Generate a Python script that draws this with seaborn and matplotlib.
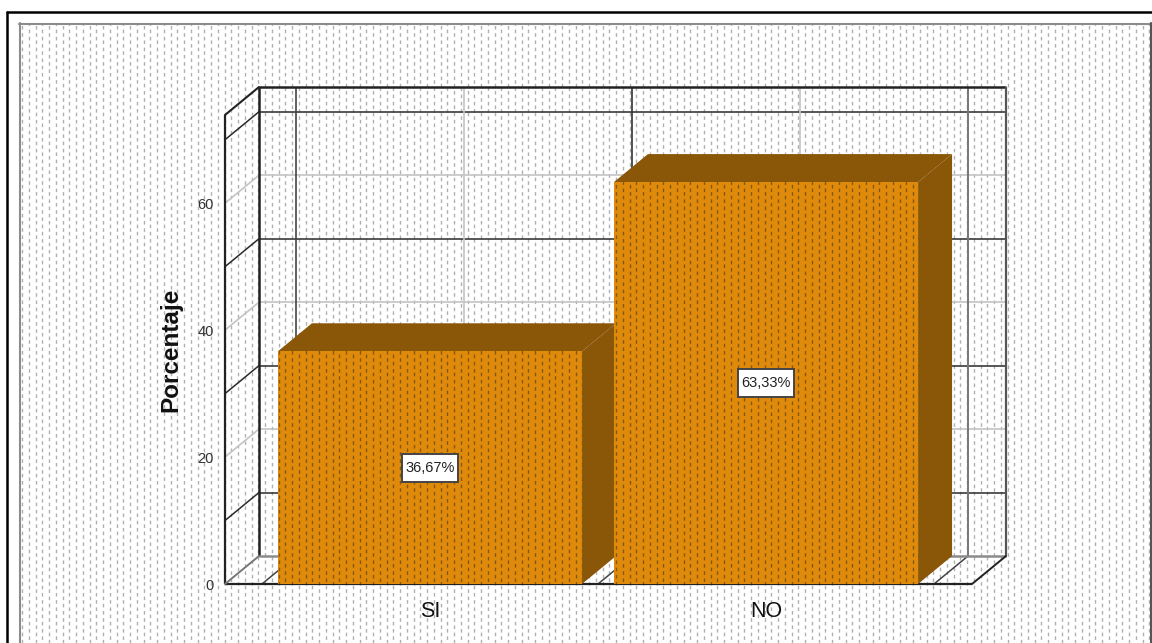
import numpy as np
import matplotlib
matplotlib.use('Agg')
import matplotlib.pyplot as plt
from matplotlib.collections import LineCollection
from matplotlib.patches import Polygon, Rectangle
from matplotlib.transforms import Affine2D, IdentityTransform
import seaborn as sns

categories = ["SI", "NO"]
percent = [36.67, 63.33]
bar_labels = ["36,67%", "63,33%"]
y_ticks = [0, 20, 40, 60]
dark_grid = [10, 30, 50, 70]
light_grid = [20, 40, 60]

W, H = 1152, 643
DEPTH_X, DEPTH_Y = 34, 28  # 3d offset of the back wall, pixels
ORANGE = "#e08a0b"
BROWN = "#8a5608"

sns.set_theme(style="white")
plt.rcParams["font.family"] = ["Liberation Sans", "DejaVu Sans"]
plt.rcParams["lines.scale_dashes"] = False

fig = plt.figure(figsize=(W / 100, H / 100), dpi=100, facecolor="white")


def dots(xs, color, phase):
    # dotted screen texture, drawn in pixel coordinates
    segs = [[(x, 0), (x, H - 23)] for x in xs]
    return LineCollection(segs, colors=color, linewidths=1.0, linestyles=[(phase, (2.6, 2.6))],
                          capstyle="butt", transform=IdentityTransform())


# alternate columns are shifted by half a period
columns = np.arange(22, W - 2, 6.75)
col_sets = [(columns[::2], 0), (columns[1::2], 2.6)]

# frame and background
bg = fig.add_axes([0, 0, 1, 1], zorder=0)
bg.set_xlim(0, W)
bg.set_ylim(H, 0)
bg.axis("off")
for xs, phase in col_sets:
    bg.add_collection(dots(xs, "#b0b0b0", phase), autolim=False)
bg.plot([7, 7], [12, H], color="black", lw=1.8)
bg.plot([7, W], [12, 12], color="black", lw=1.8)
bg.plot([19.5, 19.5], [23, H], color="#8c8c8c", lw=1.5)
bg.plot([19, W], [23.5, 23.5], color="#8c8c8c", lw=1.5)
bg.plot([W - 0.7, W - 0.7], [23, H], color="#555555", lw=1.5)

# main axes, front plane of the 3d box
ax = fig.add_axes([225 / W, (H - 584) / H, (972 - 225) / W, (584 - 115) / H], zorder=1)
ax.patch.set_alpha(0)
sns.barplot(x=categories, y=percent, color=ORANGE, saturation=1, width=0.905, ax=ax)
ax.set_xlim(-0.61, 1.613)
ax.set_ylim(0, 73.9)
sns.despine(ax=ax, left=True, bottom=True, top=True, right=True)
ax.grid(False)

ax.set_yticks(y_ticks)
ax.set_yticklabels([str(t) for t in y_ticks], fontsize=10.5, color="#333333")
ax.tick_params(axis="y", length=0, pad=8)
ax.tick_params(axis="x", length=0, pad=12)
ax.set_xticks(range(len(categories)))
ax.set_xticklabels(categories, fontsize=15.5, color="#111111")
ax.set_xlabel("")
ax.set_ylabel("Porcentaje", fontsize=17.5, fontweight="bold", color="#111111", labelpad=11)

back = ax.transData + Affine2D().translate(DEPTH_X, DEPTH_Y)
x0, x1 = ax.get_xlim()
y0, y1 = ax.get_ylim()


def wall_line(x, y, trans, color, lw):
    ax.plot(x, y, color=color, lw=lw, transform=trans, zorder=1, solid_capstyle="butt", clip_on=False)


def depth_line(x, y, color, lw):
    # from the front plane to the back wall
    p0 = ax.transData.transform((x, y))
    ax.plot([p0[0], p0[0] + DEPTH_X], [p0[1], p0[1] + DEPTH_Y], color=color, lw=lw,
            transform=IdentityTransform(), zorder=1, clip_on=False)


for val, col, lw in [(v, "#2a2a2a", 1.1) for v in dark_grid] + [(v, "#c4c4c4", 1.2) for v in light_grid]:
    wall_line([x0, x1], [val, val], back, col, lw)
    depth_line(x0, val, col, lw)

for pos, col, lw in [(-0.5, "#444444", 1.2), (0, "#c4c4c4", 1.2), (0.5, "#333333", 1.2), (1, "#c4c4c4", 1.2), (1.5, "#777777", 1.4)]:
    wall_line([pos, pos], [y0, y1], back, col, lw)
    depth_line(pos, y0, "#444444", 1.1)

# box outline
wall_line([x0, x0], [y0, y1], ax.transData, "#222222", 1.6)
wall_line([x0, x0], [y0, y1], back, "#222222", 1.8)
wall_line([x0, x1], [y1, y1], back, "#222222", 1.8)
wall_line([x1, x1], [y0, y1], back, "#555555", 1.6)
wall_line([x0, x1], [y0, y0], back, "#8c8c8c", 1.8)
wall_line([x0, x1], [y0, y0], ax.transData, "#222222", 1.6)
depth_line(x0, y1, "#222222", 1.5)
depth_line(x0, y0, "#777777", 1.4)
depth_line(x1, y0, "#222222", 1.4)

# bar faces
for i, patch in enumerate(ax.patches):
    z = 3 + 2 * i
    patch.set_zorder(z + 1)
    patch.set_edgecolor("none")
    x, w, h = patch.get_x(), patch.get_width(), patch.get_height()
    (lx, by), (rx, ty) = ax.transData.transform([(x, 0), (x + w, h)])
    top = [(lx, ty), (rx, ty), (rx + DEPTH_X, ty + DEPTH_Y), (lx + DEPTH_X, ty + DEPTH_Y)]
    side = [(rx, by), (rx + DEPTH_X, by + DEPTH_Y), (rx + DEPTH_X, ty + DEPTH_Y), (rx, ty)]
    for pts in (top, side):
        ax.add_patch(Polygon(pts, closed=True, facecolor=BROWN, edgecolor="none",
                             transform=IdentityTransform(), zorder=z, clip_on=False))
    for xs, phase in col_sets:
        tex = dots(xs, "#80590f", phase)
        tex.set_zorder(z + 1.5)
        ax.add_collection(tex, autolim=False)
        tex.set_clip_path(patch)

# value boxes, 56x28 px
for i, (val, lab) in enumerate(zip(percent, bar_labels)):
    cx, cy = ax.transData.transform((i, val / 2))
    ax.add_patch(Rectangle((cx - 28, cy - 14), 56, 28, facecolor="white", edgecolor="#444444", linewidth=1.4,
                           transform=IdentityTransform(), zorder=10))
    ax.text(i, val / 2, lab, ha="center", va="center", fontsize=10.5, color="#222222", zorder=11)

ax.set_xlim(x0, x1)
ax.set_ylim(y0, y1)
fig.savefig("out.png", dpi=100)
plt.close(fig)
